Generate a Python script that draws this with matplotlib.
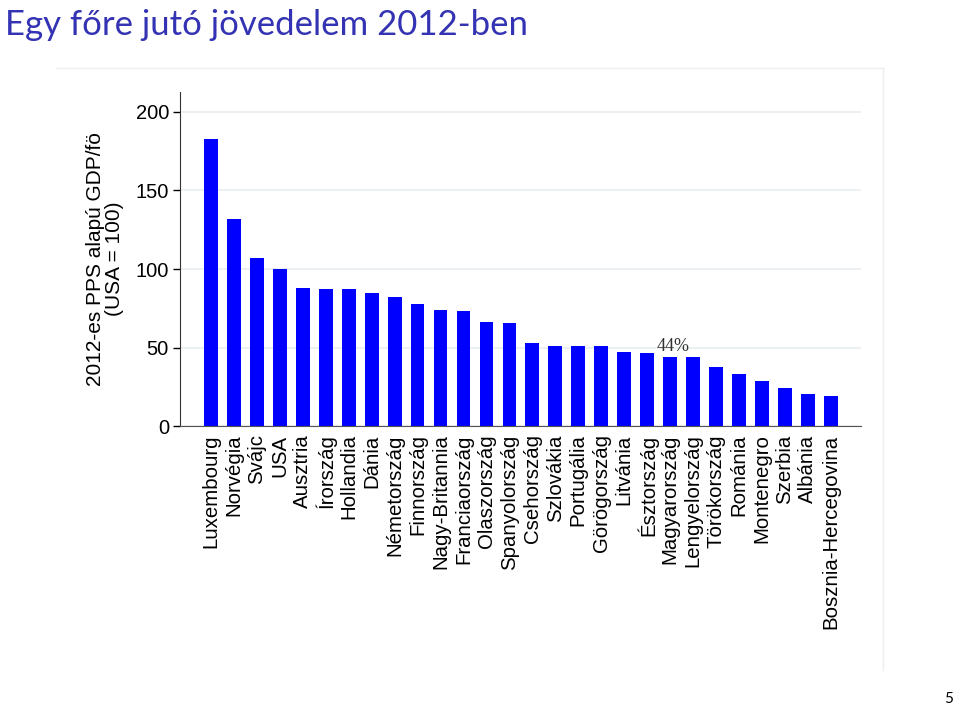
import matplotlib.pyplot as plt
from matplotlib.lines import Line2D

countries = ['Luxembourg', 'Norvégia', 'Svájc', 'USA', 'Ausztria', 'Írország',
             'Hollandia', 'Dánia', 'Németország', 'Finnország', 'Nagy-Britannia',
             'Franciaország', 'Olaszország', 'Spanyolország', 'Csehország',
             'Szlovákia', 'Portugália', 'Görögország', 'Litvánia', 'Észtország',
             'Magyarország', 'Lengyelország', 'Törökország', 'Románia',
             'Montenegro', 'Szerbia', 'Albánia', 'Bosznia-Hercegovina']
gdp_pps = [183, 132, 107, 100, 88, 87.5, 87, 84.5, 82, 77.5, 74, 73,
           66.5, 65.5, 53, 51, 51, 51, 47.5, 46.5, 44, 44, 37.5, 33,
           29, 24, 20.5, 19]
highlight = 'Magyarország'
highlight_label = '44%'

fig = plt.figure(figsize=(9.6, 7.15), dpi=100)
ax = fig.add_axes([0.1875, 0.404, 0.709, 0.467])

x = range(len(countries))
ax.bar(x, gdp_pps, width=0.6, color='#0000ff', zorder=2)
ax.set_xlim(-1.35, len(countries) + 0.3)
ax.set_ylim(0, 212.5)
ax.set_yticks([0, 50, 100, 150, 200])
ax.grid(axis='y', color='#e8eef0', linewidth=1.2, zorder=0)
ax.set_xticks(list(x))
ax.set_xticklabels(countries, rotation=90, ha='center', va='top',
                   family='Liberation Sans', fontsize=14.7)
ax.tick_params(axis='x', length=0, pad=6)
ax.tick_params(axis='y', length=5, width=1, labelsize=14.5, pad=3)
for lab in ax.get_yticklabels():
    lab.set_family('Liberation Sans')
for s in ['top', 'right']:
    ax.spines[s].set_visible(False)
ax.spines['left'].set_color('#333333')
ax.spines['bottom'].set_color('#555555')
ax.set_ylabel('2012-es PPS alapú GDP/fö\n(USA = 100)', family='Liberation Sans',
              fontsize=15, labelpad=8, linespacing=1.0)

i = countries.index(highlight)
ax.text(i + 0.15, gdp_pps[i] + 1.5, highlight_label, family='Liberation Serif',
        fontsize=13, color='#333333', ha='center', va='bottom')

# faint frame of the embedded picture
fig.add_artist(Line2D([0.058, 0.92], [0.905, 0.905], color='#eeeeee', lw=1))
fig.add_artist(Line2D([0.92, 0.92], [0.905, 0.063], color='#eeeeee', lw=1))

fig.text(0.005, 0.965, 'Egy főre jutó jövedelem 2012-ben', family='Lato',
         fontsize=25, color='#3333b3', ha='left', va='center')
fig.text(0.993, 0.013, '5', family='Lato', fontsize=11,
         color='black', ha='right', va='bottom')

fig.savefig('out.png', dpi=100)
